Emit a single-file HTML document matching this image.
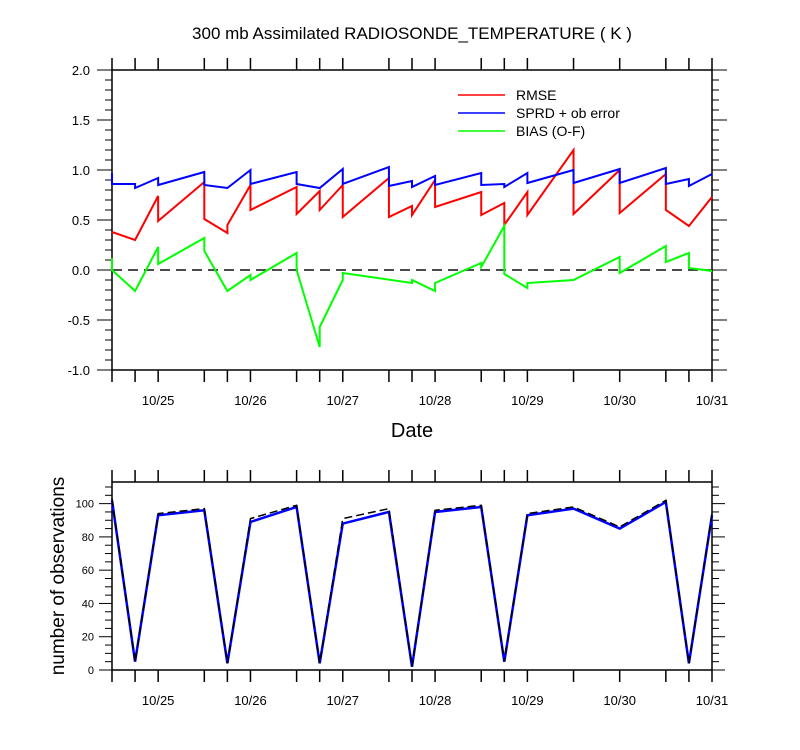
<!DOCTYPE html>
<html><head><meta charset="utf-8"><style>
html,body{margin:0;padding:0;background:#fff;}
svg{display:block;font-family:"Liberation Sans",Arial,sans-serif;}
</style></head><body>
<svg id="c" width="800" height="750" viewBox="0 0 800 750">
<text x="412" y="39" font-size="17" text-anchor="middle">300 mb Assimilated RADIOSONDE_TEMPERATURE ( K )</text>
<text x="412" y="437" font-size="20" text-anchor="middle">Date</text>
<text transform="translate(64,576) rotate(-90)" font-size="19" text-anchor="middle">number of observations</text>
<g>
<line x1="458" y1="95" x2="505" y2="95" stroke="#ff0000" stroke-width="1.5"/>
<text x="516" y="100" font-size="14">RMSE</text>
<line x1="458" y1="113" x2="505" y2="113" stroke="#0000ff" stroke-width="1.5"/>
<text x="516" y="118" font-size="14">SPRD + ob error</text>
<line x1="458" y1="131" x2="505" y2="131" stroke="#00ff00" stroke-width="1.5"/>
<text x="516" y="136" font-size="14">BIAS (O-F)</text>
</g>
</svg>
<script>
// hours since 10/24 12Z
const tickHours=[0,6,12,24,30,36,48,54,60,72,78,84,96,102,108,120,132,144,150,156];
const dateLabels=["10/25","10/26","10/27","10/28","10/29","10/30","10/31"];
const dateHours=[12,36,60,84,108,132,156];
const rmseT=[0,6,12,12,24,24,30,30,36,36,48,48,54,54,60,60,72,72,78,78,84,84,96,96,102,102,108,108,120,120,132,132,144,144,150,156];
const rmseV=[0.38,0.30,0.74,0.49,0.88,0.51,0.37,0.45,0.85,0.60,0.83,0.56,0.79,0.60,0.85,0.53,0.92,0.53,0.64,0.55,0.90,0.63,0.78,0.55,0.67,0.45,0.78,0.55,1.20,0.56,1.00,0.57,0.96,0.60,0.44,0.73];
const sprdT=[0,0,6,6,12,12,24,24,30,36,36,48,48,54,60,60,72,72,78,78,84,84,96,96,102,102,108,108,120,120,132,132,144,144,150,150,156];
const sprdV=[0.97,0.86,0.86,0.82,0.92,0.85,0.98,0.85,0.82,1.00,0.86,0.98,0.86,0.82,1.01,0.86,1.03,0.84,0.89,0.83,0.94,0.85,0.97,0.85,0.86,0.83,0.97,0.87,1.00,0.87,1.01,0.87,1.02,0.86,0.91,0.84,0.96];
const biasT=[0,0,6,12,12,24,24,30,36,36,48,48,54,54,60,60,78,78,84,84,96,96,102,102,108,108,120,132,132,144,144,150,150,156];
const biasV=[0.12,0.00,-0.21,0.23,0.06,0.32,0.19,-0.21,-0.05,-0.10,0.17,0.00,-0.77,-0.57,-0.10,-0.03,-0.13,-0.10,-0.21,-0.13,0.07,0.03,0.44,-0.04,-0.18,-0.13,-0.10,0.13,-0.03,0.24,0.08,0.17,0.02,-0.01];
const obsT=[0,6,12,24,30,36,48,54,60,72,78,84,96,102,108,120,132,144,150,156];
const obsUsed=[102,5,93,96,4,89,98,4,88,95,2,95,98,5,93,97,85,101,4,93];
const obsTotal=[103,5,94,97,4,91,99,4,91,97,2,96,99,5,94,98,86,102,4,94];

const NS="http://www.w3.org/2000/svg", svg=document.getElementById('c');
function el(t,a,p){const e=document.createElementNS(NS,t);for(const k in a)e.setAttribute(k,a[k]);(p||svg).appendChild(e);return e;}
const X0=112,X1=712,H=156;
const xs=h=>X0+h/H*(X1-X0);
const T={top:70,bot:370,min:-1,max:2}; const yT=v=>T.bot-(v-T.min)/(T.max-T.min)*(T.bot-T.top);
const B={top:482,bot:670,min:0,max:113}; const yB=v=>B.bot-(v-B.min)/(B.max-B.min)*(B.bot-B.top);

function frame(P,name){
  const g=el('g',{});
  
  
  el('rect',{x:X0,y:P.top,width:X1-X0,height:P.bot-P.top,fill:'none',stroke:'#000','stroke-width':1.5},g);
  tickHours.forEach(h=>{const x=xs(h);
    el('line',{x1:x,y1:P.top,x2:x,y2:P.top-12,stroke:'#000','stroke-width':1.5},g);
    el('line',{x1:x,y1:P.bot,x2:x,y2:P.bot+12,stroke:'#000','stroke-width':1.5},g);});
  dateHours.forEach((h,i)=>{const t=el('text',{x:xs(h),y:P.bot+35,'font-size':13,'text-anchor':'middle'},g);t.textContent=dateLabels[i];
    
    });
  return g;
}
// top panel
const g1=frame(T,'top-panel');
for(let i=-10;i<=20;i++){const v=i/10,y=yT(v),maj=i%5===0,L=maj?15:7;
  el('line',{x1:X0-L,y1:y,x2:X0,y2:y,stroke:'#000','stroke-width':1},g1);
  el('line',{x1:X1,y1:y,x2:X1+L,y2:y,stroke:'#000','stroke-width':1},g1);
  if(maj){const t=el('text',{x:X0-22,y:y+5,'font-size':13,'text-anchor':'end'},g1);t.textContent=v.toFixed(1);
    
    }}
el('line',{x1:X0,y1:yT(0),x2:X1,y2:yT(0),stroke:'#333','stroke-width':1.8,'stroke-dasharray':'10,6'},g1);
function series(Ts,Vs,ys,color,name,extra){
  const p=el('polyline',Object.assign({points:Ts.map((t,i)=>xs(t)+','+ys(Vs[i])).join(' '),fill:'none',stroke:color,'stroke-width':2,'stroke-linejoin':'miter'},extra||{}));
  
  
}
series(rmseT,rmseV,yT,'#ff0000','rmse-line');
series(sprdT,sprdV,yT,'#0000ff','sprd-line');
series(biasT,biasV,yT,'#00ff00','bias-line');
// bottom panel
const g2=frame(B,'bottom-panel');
for(let v=0;v<=110;v+=5){const y=yB(v),maj=v%20===0,L=maj?13:7;
  el('line',{x1:X0-L,y1:y,x2:X0,y2:y,stroke:'#000','stroke-width':1},g2);
  el('line',{x1:X1,y1:y,x2:X1+L,y2:y,stroke:'#000','stroke-width':1},g2);
  if(maj){const t=el('text',{x:X0-18,y:y+4,'font-size':11,'text-anchor':'end'},g2);t.textContent=v;
    
    }}
series(obsT,obsUsed,yB,'#0000ff','obs-used-line',{'stroke-width':2.5});
series(obsT,obsTotal,yB,'#000','obs-total-line',{'stroke-width':1.5,'stroke-dasharray':'8,4'});
</script>
</body></html>
